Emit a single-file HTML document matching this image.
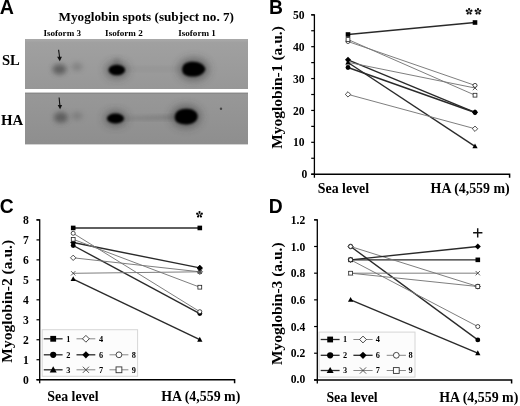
<!DOCTYPE html>
<html><head><meta charset="utf-8"><style>
html,body{margin:0;padding:0;background:#fff;}
svg{display:block;will-change:transform;}
text{fill:#000;}
.s{font-family:"Liberation Serif",serif;font-weight:bold;}
.a{font-family:"Liberation Sans",sans-serif;font-weight:bold;}
</style></head><body>
<svg width="520" height="406" viewBox="0 0 520 406">
<text x="-0.2" y="13.7" class="a" font-size="19.6" text-anchor="start" >A</text>
<text x="58.5" y="20.9" class="s" font-size="13.2" text-anchor="start" >Myoglobin spots (subject no. 7)</text>
<text x="43.4" y="35.7" class="s" font-size="9.1" text-anchor="start" >Isoform 3</text>
<text x="105.1" y="35.7" class="s" font-size="9.1" text-anchor="start" >Isoform 2</text>
<text x="178.2" y="35.7" class="s" font-size="9.1" text-anchor="start" >Isoform 1</text>
<text x="1.9" y="64.9" class="s" font-size="14.6" text-anchor="start" >SL</text>
<text x="0.9" y="124.7" class="s" font-size="14.8" text-anchor="start" >HA</text>

<defs>
<filter id="b07" x="-50%" y="-50%" width="200%" height="200%"><feGaussianBlur stdDeviation="0.7"/></filter>
<filter id="b1" x="-50%" y="-50%" width="200%" height="200%"><feGaussianBlur stdDeviation="1"/></filter>
<filter id="b2" x="-50%" y="-50%" width="200%" height="200%"><feGaussianBlur stdDeviation="2"/></filter>
<filter id="b3" x="-50%" y="-50%" width="200%" height="200%"><feGaussianBlur stdDeviation="2.6"/></filter>
<filter id="b5" x="-50%" y="-50%" width="200%" height="200%"><feGaussianBlur stdDeviation="4"/></filter>
<linearGradient id="g1" x1="0" y1="0" x2="0" y2="1"><stop offset="0" stop-color="#a1a1a1"/><stop offset="1" stop-color="#979797"/></linearGradient>
<linearGradient id="g2" x1="0" y1="0" x2="0" y2="1"><stop offset="0" stop-color="#989898"/><stop offset="1" stop-color="#8e8e8e"/></linearGradient>
<clipPath id="c1"><rect x="25" y="39" width="223" height="50"/></clipPath>
<clipPath id="c2"><rect x="25" y="92.6" width="223" height="51.8"/></clipPath>
</defs>
<rect x="25" y="39" width="223" height="50" fill="url(#g1)"/>
<rect x="25" y="92.6" width="223" height="51.8" fill="url(#g2)"/>
<g clip-path="url(#c1)">
 <rect x="25" y="38" width="223" height="3" fill="#b0b0b0" filter="url(#b1)" opacity="0.6"/>
 <ellipse cx="59.5" cy="69.2" rx="7" ry="5.2" fill="#555" filter="url(#b3)" opacity="0.85"/>
 <ellipse cx="77" cy="66.8" rx="5.5" ry="4" fill="#6a6a6a" filter="url(#b3)" opacity="0.5"/>
 <rect x="125" y="67" width="55" height="4" fill="#888" filter="url(#b3)" opacity="0.35"/>
 <ellipse cx="116.8" cy="70" rx="11" ry="8" fill="#333" filter="url(#b5)" opacity="0.55"/>
 <ellipse cx="116.8" cy="64" rx="3" ry="6" fill="#555" filter="url(#b3)" opacity="0.4"/>
 <ellipse cx="116.8" cy="70" rx="8.3" ry="5.3" fill="#000" filter="url(#b1)"/>
 <ellipse cx="193.6" cy="69.2" rx="15" ry="11" fill="#333" filter="url(#b5)" opacity="0.55"/>
 <path d="M182.2,69.4 C182.2,64 187,61.8 193,61.8 C199.5,61.8 204,64.8 205.4,69 C204,73.6 199.5,76.6 193,76.6 C187,76.6 182.2,74.8 182.2,69.4Z" fill="#000" filter="url(#b1)"/>
 <path d="M58.6,49.8 L59.6,57.5" stroke="#111" stroke-width="1.1"/>
 <path d="M57.1,56.8 L61.9,56.8 L59.8,61.2 Z" fill="#111"/>
</g>
<g clip-path="url(#c2)">
 <rect x="25" y="92.6" width="223" height="1.2" fill="#808080" opacity="0.7"/>
 <ellipse cx="60.9" cy="117.4" rx="7" ry="5.4" fill="#555" filter="url(#b3)" opacity="0.85"/>
 <ellipse cx="77" cy="116" rx="5.5" ry="4" fill="#6a6a6a" filter="url(#b3)" opacity="0.5"/>
 <path d="M124,117.5 L176,115.3 L176,119.5 L124,119.5Z" fill="#666" filter="url(#b2)" opacity="0.55"/>
 <ellipse cx="115.5" cy="118.5" rx="11" ry="7.5" fill="#333" filter="url(#b5)" opacity="0.55"/>
 <ellipse cx="115.5" cy="118.5" rx="8.5" ry="4.9" fill="#000" filter="url(#b1)"/>
 <ellipse cx="186.1" cy="116.5" rx="14.5" ry="11" fill="#333" filter="url(#b5)" opacity="0.55"/>
 <path d="M174.8,117.5 C174.8,111.5 180,108.8 186.5,108.8 C193,108.8 197.6,112 197.6,116.3 C197.6,121 193,124.4 186.5,124.4 C180,124.4 174.8,122.5 174.8,117.5Z" fill="#000" filter="url(#b1)"/>
 <circle cx="221" cy="108.7" r="1.2" fill="#444" filter="url(#b07)"/>
 <path d="M59.1,97.5 L59.9,105.6" stroke="#111" stroke-width="1.1"/>
 <path d="M57.7,105.1 L62.1,105.1 L60.1,109.3 Z" fill="#111"/>
</g>

<text x="268.9" y="13.8" class="a" font-size="19.3" text-anchor="start" >B</text>
<path d="M311.20,14.80 H314.40 V177.80" stroke="#000" stroke-width="1.3" fill="none"/>
<path d="M311.20,174.20 H314.40" stroke="#000" stroke-width="1.2"/>
<path d="M311.20,142.32 H314.40" stroke="#000" stroke-width="1.2"/>
<path d="M311.20,110.44 H314.40" stroke="#000" stroke-width="1.2"/>
<path d="M311.20,78.56 H314.40" stroke="#000" stroke-width="1.2"/>
<path d="M311.20,46.68 H314.40" stroke="#000" stroke-width="1.2"/>
<path d="M311.20,14.80 H314.40" stroke="#000" stroke-width="1.2"/>
<path d="M311.20,158.26 H314.40" stroke="#000" stroke-width="1.2"/>
<path d="M311.20,126.38 H314.40" stroke="#000" stroke-width="1.2"/>
<path d="M311.20,94.50 H314.40" stroke="#000" stroke-width="1.2"/>
<path d="M311.20,62.62 H314.40" stroke="#000" stroke-width="1.2"/>
<path d="M311.20,30.74 H314.40" stroke="#000" stroke-width="1.2"/>
<path d="M311.20,174.20 H509.60 V177.80" stroke="#000" stroke-width="1.5" fill="none"/>
<text x="307.40" y="178.30" class="s" font-size="11.6" text-anchor="end" >0</text>
<text x="304.60" y="146.42" class="s" font-size="11.6" text-anchor="end" >10</text>
<text x="304.60" y="114.54" class="s" font-size="11.6" text-anchor="end" >20</text>
<text x="304.60" y="82.66" class="s" font-size="11.6" text-anchor="end" >30</text>
<text x="304.60" y="50.78" class="s" font-size="11.6" text-anchor="end" >40</text>
<text x="304.60" y="18.90" class="s" font-size="11.6" text-anchor="end" >50</text>
<text x="0" y="0" class="s" font-size="15.5" text-anchor="middle" transform="translate(281.8,87.5) rotate(-90)">Myoglobin-1 (a.u.)</text>
<text x="317.8" y="192.8" class="s" font-size="13.9" text-anchor="start" >Sea level</text>
<text x="430.6" y="192.8" class="s" font-size="13.9" text-anchor="start" >HA (4,559 m)</text>
<line x1="348" y1="34.50" x2="475" y2="22.50" stroke="#2a2a2a" stroke-width="1.4"/>
<line x1="348" y1="67.50" x2="475" y2="112.50" stroke="#2a2a2a" stroke-width="1.4"/>
<line x1="348" y1="62.50" x2="475" y2="146.30" stroke="#2a2a2a" stroke-width="1.4"/>
<line x1="348" y1="94.40" x2="475" y2="128.75" stroke="#777" stroke-width="0.95"/>
<line x1="348" y1="59.80" x2="475" y2="112.30" stroke="#2a2a2a" stroke-width="1.4"/>
<line x1="348" y1="62.30" x2="475" y2="88.00" stroke="#777" stroke-width="0.95"/>
<line x1="348" y1="41.50" x2="475" y2="85.40" stroke="#777" stroke-width="0.95"/>
<line x1="348" y1="39.50" x2="475" y2="95.20" stroke="#777" stroke-width="0.95"/>
<path d="M348.00,91.71 L350.69,94.40 L348.00,97.09 L345.31,94.40Z" fill="#fff" stroke="#222" stroke-width="0.8"/>
<path d="M475.00,126.06 L477.69,128.75 L475.00,131.44 L472.31,128.75Z" fill="#fff" stroke="#222" stroke-width="0.8"/>
<path d="M345.81,60.11 L350.19,64.48 M350.19,60.11 L345.81,64.48" stroke="#333" stroke-width="0.8" fill="none"/>
<path d="M472.81,85.81 L477.19,90.19 M477.19,85.81 L472.81,90.19" stroke="#333" stroke-width="0.8" fill="none"/>
<circle cx="348.00" cy="67.50" r="2.42" fill="#000"/>
<circle cx="475.00" cy="112.50" r="2.42" fill="#000"/>
<path d="M348.00,59.60 L350.64,64.43 L345.36,64.43Z" fill="#000"/>
<path d="M475.00,143.40 L477.64,148.23 L472.36,148.23Z" fill="#000"/>
<path d="M348.00,56.81 L350.99,59.80 L348.00,62.79 L345.01,59.80Z" fill="#000"/>
<path d="M475.00,109.31 L477.99,112.30 L475.00,115.29 L472.01,112.30Z" fill="#000"/>
<circle cx="348.00" cy="41.50" r="2.02" fill="#fff" stroke="#222" stroke-width="0.8"/>
<circle cx="475.00" cy="85.40" r="2.02" fill="#fff" stroke="#222" stroke-width="0.8"/>
<rect x="346.10" y="37.60" width="3.80" height="3.80" fill="#fff" stroke="#222" stroke-width="0.8"/>
<rect x="473.10" y="93.30" width="3.80" height="3.80" fill="#fff" stroke="#222" stroke-width="0.8"/>
<rect x="345.70" y="32.20" width="4.60" height="4.60" fill="#000"/>
<rect x="472.70" y="20.20" width="4.60" height="4.60" fill="#000"/>
<path transform="translate(469.10,11.50) rotate(0.0) scale(1.000)" d="M0,-0.3 C0.45,-1.1 1.35,-2.1 1.05,-2.95 C0.75,-3.65 -0.75,-3.65 -1.05,-2.95 C-1.35,-2.1 -0.45,-1.1 0,-0.3Z" fill="#000"/>
<path transform="translate(469.10,11.50) rotate(72.0) scale(1.000)" d="M0,-0.3 C0.45,-1.1 1.35,-2.1 1.05,-2.95 C0.75,-3.65 -0.75,-3.65 -1.05,-2.95 C-1.35,-2.1 -0.45,-1.1 0,-0.3Z" fill="#000"/>
<path transform="translate(469.10,11.50) rotate(144.0) scale(1.000)" d="M0,-0.3 C0.45,-1.1 1.35,-2.1 1.05,-2.95 C0.75,-3.65 -0.75,-3.65 -1.05,-2.95 C-1.35,-2.1 -0.45,-1.1 0,-0.3Z" fill="#000"/>
<path transform="translate(469.10,11.50) rotate(216.0) scale(1.000)" d="M0,-0.3 C0.45,-1.1 1.35,-2.1 1.05,-2.95 C0.75,-3.65 -0.75,-3.65 -1.05,-2.95 C-1.35,-2.1 -0.45,-1.1 0,-0.3Z" fill="#000"/>
<path transform="translate(469.10,11.50) rotate(288.0) scale(1.000)" d="M0,-0.3 C0.45,-1.1 1.35,-2.1 1.05,-2.95 C0.75,-3.65 -0.75,-3.65 -1.05,-2.95 C-1.35,-2.1 -0.45,-1.1 0,-0.3Z" fill="#000"/>
<path transform="translate(478.00,11.50) rotate(0.0) scale(1.000)" d="M0,-0.3 C0.45,-1.1 1.35,-2.1 1.05,-2.95 C0.75,-3.65 -0.75,-3.65 -1.05,-2.95 C-1.35,-2.1 -0.45,-1.1 0,-0.3Z" fill="#000"/>
<path transform="translate(478.00,11.50) rotate(72.0) scale(1.000)" d="M0,-0.3 C0.45,-1.1 1.35,-2.1 1.05,-2.95 C0.75,-3.65 -0.75,-3.65 -1.05,-2.95 C-1.35,-2.1 -0.45,-1.1 0,-0.3Z" fill="#000"/>
<path transform="translate(478.00,11.50) rotate(144.0) scale(1.000)" d="M0,-0.3 C0.45,-1.1 1.35,-2.1 1.05,-2.95 C0.75,-3.65 -0.75,-3.65 -1.05,-2.95 C-1.35,-2.1 -0.45,-1.1 0,-0.3Z" fill="#000"/>
<path transform="translate(478.00,11.50) rotate(216.0) scale(1.000)" d="M0,-0.3 C0.45,-1.1 1.35,-2.1 1.05,-2.95 C0.75,-3.65 -0.75,-3.65 -1.05,-2.95 C-1.35,-2.1 -0.45,-1.1 0,-0.3Z" fill="#000"/>
<path transform="translate(478.00,11.50) rotate(288.0) scale(1.000)" d="M0,-0.3 C0.45,-1.1 1.35,-2.1 1.05,-2.95 C0.75,-3.65 -0.75,-3.65 -1.05,-2.95 C-1.35,-2.1 -0.45,-1.1 0,-0.3Z" fill="#000"/>
<text x="-0.3" y="212.9" class="a" font-size="19.3" text-anchor="start" >C</text>
<path d="M36.50,219.94 H39.70 V383.30" stroke="#000" stroke-width="1.3" fill="none"/>
<path d="M36.50,379.70 H39.70" stroke="#000" stroke-width="1.2"/>
<path d="M36.50,359.73 H39.70" stroke="#000" stroke-width="1.2"/>
<path d="M36.50,339.76 H39.70" stroke="#000" stroke-width="1.2"/>
<path d="M36.50,319.79 H39.70" stroke="#000" stroke-width="1.2"/>
<path d="M36.50,299.82 H39.70" stroke="#000" stroke-width="1.2"/>
<path d="M36.50,279.85 H39.70" stroke="#000" stroke-width="1.2"/>
<path d="M36.50,259.88 H39.70" stroke="#000" stroke-width="1.2"/>
<path d="M36.50,239.91 H39.70" stroke="#000" stroke-width="1.2"/>
<path d="M36.50,219.94 H39.70" stroke="#000" stroke-width="1.2"/>
<path d="M36.50,379.70 H234.60 V383.30" stroke="#000" stroke-width="1.5" fill="none"/>
<text x="28.70" y="383.80" class="s" font-size="11.6" text-anchor="end" >0</text>
<text x="28.70" y="363.83" class="s" font-size="11.6" text-anchor="end" >1</text>
<text x="28.70" y="343.86" class="s" font-size="11.6" text-anchor="end" >2</text>
<text x="28.70" y="323.89" class="s" font-size="11.6" text-anchor="end" >3</text>
<text x="28.70" y="303.92" class="s" font-size="11.6" text-anchor="end" >4</text>
<text x="28.70" y="283.95" class="s" font-size="11.6" text-anchor="end" >5</text>
<text x="28.70" y="263.98" class="s" font-size="11.6" text-anchor="end" >6</text>
<text x="28.70" y="244.01" class="s" font-size="11.6" text-anchor="end" >7</text>
<text x="28.70" y="224.04" class="s" font-size="11.6" text-anchor="end" >8</text>
<text x="0" y="0" class="s" font-size="15.5" text-anchor="middle" transform="translate(11.9,301.3) rotate(-90)">Myoglobin-2 (a.u.)</text>
<text x="47.3" y="401.4" class="s" font-size="13.9" text-anchor="start" >Sea level</text>
<text x="161.2" y="401.4" class="s" font-size="13.9" text-anchor="start" >HA (4,559 m)</text>
<line x1="73.2" y1="227.95" x2="199.8" y2="227.95" stroke="#2a2a2a" stroke-width="1.4"/>
<line x1="73.2" y1="245.50" x2="199.8" y2="313.60" stroke="#2a2a2a" stroke-width="1.4"/>
<line x1="73.2" y1="279.10" x2="199.8" y2="339.70" stroke="#2a2a2a" stroke-width="1.4"/>
<line x1="73.2" y1="257.80" x2="199.8" y2="271.80" stroke="#777" stroke-width="0.95"/>
<line x1="73.2" y1="242.50" x2="199.8" y2="267.90" stroke="#2a2a2a" stroke-width="1.4"/>
<line x1="73.2" y1="273.30" x2="199.8" y2="271.80" stroke="#777" stroke-width="0.95"/>
<line x1="73.2" y1="233.30" x2="199.8" y2="311.70" stroke="#777" stroke-width="0.95"/>
<line x1="73.2" y1="239.30" x2="199.8" y2="287.20" stroke="#777" stroke-width="0.95"/>
<rect x="70.90" y="225.65" width="4.60" height="4.60" fill="#000"/>
<rect x="197.50" y="225.65" width="4.60" height="4.60" fill="#000"/>
<circle cx="73.20" cy="245.50" r="2.42" fill="#000"/>
<circle cx="199.80" cy="313.60" r="2.42" fill="#000"/>
<path d="M73.20,276.20 L75.84,281.03 L70.56,281.03Z" fill="#000"/>
<path d="M199.80,336.80 L202.45,341.63 L197.16,341.63Z" fill="#000"/>
<path d="M73.20,255.11 L75.89,257.80 L73.20,260.49 L70.51,257.80Z" fill="#fff" stroke="#222" stroke-width="0.8"/>
<path d="M199.80,269.11 L202.49,271.80 L199.80,274.49 L197.11,271.80Z" fill="#fff" stroke="#222" stroke-width="0.8"/>
<path d="M73.20,239.51 L76.19,242.50 L73.20,245.49 L70.21,242.50Z" fill="#000"/>
<path d="M199.80,264.91 L202.79,267.90 L199.80,270.89 L196.81,267.90Z" fill="#000"/>
<path d="M71.02,271.12 L75.39,275.49 M75.39,271.12 L71.02,275.49" stroke="#333" stroke-width="0.8" fill="none"/>
<path d="M197.62,269.62 L201.99,273.99 M201.99,269.62 L197.62,273.99" stroke="#333" stroke-width="0.8" fill="none"/>
<circle cx="73.20" cy="233.30" r="2.02" fill="#fff" stroke="#222" stroke-width="0.8"/>
<circle cx="199.80" cy="311.70" r="2.02" fill="#fff" stroke="#222" stroke-width="0.8"/>
<rect x="71.30" y="237.40" width="3.80" height="3.80" fill="#fff" stroke="#222" stroke-width="0.8"/>
<rect x="197.90" y="285.30" width="3.80" height="3.80" fill="#fff" stroke="#222" stroke-width="0.8"/>
<rect x="198.1" y="270.2" width="3.5" height="3.6" fill="#555"/>
<path d="M199.80,264.91 L202.79,267.90 L199.80,270.89 L196.81,267.90Z" fill="#000"/>
<path transform="translate(199.50,214.50) rotate(0.0) scale(1.000)" d="M0,-0.3 C0.45,-1.1 1.35,-2.1 1.05,-2.95 C0.75,-3.65 -0.75,-3.65 -1.05,-2.95 C-1.35,-2.1 -0.45,-1.1 0,-0.3Z" fill="#000"/>
<path transform="translate(199.50,214.50) rotate(72.0) scale(1.000)" d="M0,-0.3 C0.45,-1.1 1.35,-2.1 1.05,-2.95 C0.75,-3.65 -0.75,-3.65 -1.05,-2.95 C-1.35,-2.1 -0.45,-1.1 0,-0.3Z" fill="#000"/>
<path transform="translate(199.50,214.50) rotate(144.0) scale(1.000)" d="M0,-0.3 C0.45,-1.1 1.35,-2.1 1.05,-2.95 C0.75,-3.65 -0.75,-3.65 -1.05,-2.95 C-1.35,-2.1 -0.45,-1.1 0,-0.3Z" fill="#000"/>
<path transform="translate(199.50,214.50) rotate(216.0) scale(1.000)" d="M0,-0.3 C0.45,-1.1 1.35,-2.1 1.05,-2.95 C0.75,-3.65 -0.75,-3.65 -1.05,-2.95 C-1.35,-2.1 -0.45,-1.1 0,-0.3Z" fill="#000"/>
<path transform="translate(199.50,214.50) rotate(288.0) scale(1.000)" d="M0,-0.3 C0.45,-1.1 1.35,-2.1 1.05,-2.95 C0.75,-3.65 -0.75,-3.65 -1.05,-2.95 C-1.35,-2.1 -0.45,-1.1 0,-0.3Z" fill="#000"/>
<rect x="42.2" y="329.7" width="95.4" height="46.6" fill="#fcfcfc" stroke="#d6d6d6" stroke-width="1"/>
<line x1="43.8" y1="338.8" x2="62.6" y2="338.8" stroke="#2a2a2a" stroke-width="1.3"/>
<rect x="50.30" y="335.90" width="5.8" height="5.8" fill="#000"/>
<text x="66.2" y="341.60" class="s" font-size="8.3" text-anchor="start" >1</text>
<line x1="76.5" y1="338.8" x2="95.3" y2="338.8" stroke="#888" stroke-width="1.0"/>
<path d="M85.90,335.40 L89.30,338.80 L85.90,342.20 L82.50,338.80Z" fill="#fff" stroke="#333" stroke-width="0.9"/>
<text x="99.0" y="341.60" class="s" font-size="8.3" text-anchor="start" >4</text>
<line x1="43.8" y1="354.8" x2="62.6" y2="354.8" stroke="#2a2a2a" stroke-width="1.3"/>
<circle cx="53.20" cy="354.80" r="3.1" fill="#000"/>
<text x="66.2" y="357.60" class="s" font-size="8.3" text-anchor="start" >2</text>
<line x1="76.5" y1="354.8" x2="95.3" y2="354.8" stroke="#2a2a2a" stroke-width="1.3"/>
<path d="M85.90,351.20 L89.50,354.80 L85.90,358.40 L82.30,354.80Z" fill="#000"/>
<text x="99.0" y="357.60" class="s" font-size="8.3" text-anchor="start" >6</text>
<line x1="109.5" y1="354.8" x2="128.4" y2="354.8" stroke="#888" stroke-width="1.0"/>
<circle cx="118.95" cy="354.80" r="2.9" fill="#fff" stroke="#333" stroke-width="0.9"/>
<text x="131.8" y="357.60" class="s" font-size="8.3" text-anchor="start" >8</text>
<line x1="43.8" y1="369.8" x2="62.6" y2="369.8" stroke="#2a2a2a" stroke-width="1.3"/>
<path d="M53.20,366.20 L56.70,372.40 L49.70,372.40Z" fill="#000"/>
<text x="66.2" y="372.60" class="s" font-size="8.3" text-anchor="start" >3</text>
<line x1="76.5" y1="369.8" x2="95.3" y2="369.8" stroke="#888" stroke-width="1.0"/>
<path d="M82.80,366.70 L89.00,372.90 M89.00,366.70 L82.80,372.90" stroke="#444" stroke-width="0.9" fill="none"/>
<text x="99.0" y="372.60" class="s" font-size="8.3" text-anchor="start" >7</text>
<line x1="109.5" y1="369.8" x2="128.4" y2="369.8" stroke="#888" stroke-width="1.0"/>
<rect x="116.05" y="366.90" width="5.8" height="5.8" fill="#fff" stroke="#333" stroke-width="0.9"/>
<text x="131.8" y="372.60" class="s" font-size="8.3" text-anchor="start" >9</text>
<text x="268.7" y="212.7" class="a" font-size="19.3" text-anchor="start" >D</text>
<path d="M314.10,219.82 H317.30 V383.50" stroke="#000" stroke-width="1.3" fill="none"/>
<path d="M314.10,379.90 H317.30" stroke="#000" stroke-width="1.2"/>
<path d="M314.10,353.22 H317.30" stroke="#000" stroke-width="1.2"/>
<path d="M314.10,326.54 H317.30" stroke="#000" stroke-width="1.2"/>
<path d="M314.10,299.86 H317.30" stroke="#000" stroke-width="1.2"/>
<path d="M314.10,273.18 H317.30" stroke="#000" stroke-width="1.2"/>
<path d="M314.10,246.50 H317.30" stroke="#000" stroke-width="1.2"/>
<path d="M314.10,219.82 H317.30" stroke="#000" stroke-width="1.2"/>
<path d="M314.10,379.90 H511.60 V383.50" stroke="#000" stroke-width="1.5" fill="none"/>
<text x="305.20" y="382.50" class="s" font-size="11.6" text-anchor="end" >0.0</text>
<text x="305.20" y="357.32" class="s" font-size="11.6" text-anchor="end" >0.2</text>
<text x="305.20" y="330.64" class="s" font-size="11.6" text-anchor="end" >0.4</text>
<text x="305.20" y="303.96" class="s" font-size="11.6" text-anchor="end" >0.6</text>
<text x="305.20" y="277.28" class="s" font-size="11.6" text-anchor="end" >0.8</text>
<text x="305.20" y="250.60" class="s" font-size="11.6" text-anchor="end" >1.0</text>
<text x="305.20" y="223.92" class="s" font-size="11.6" text-anchor="end" >1.2</text>
<text x="0" y="0" class="s" font-size="15.5" text-anchor="middle" transform="translate(281.9,303.7) rotate(-90)">Myoglobin-3 (a.u.)</text>
<text x="326.4" y="402.2" class="s" font-size="13.9" text-anchor="start" >Sea level</text>
<text x="439.2" y="402.2" class="s" font-size="13.9" text-anchor="start" >HA (4,559 m)</text>
<line x1="350.6" y1="259.84" x2="477.8" y2="259.84" stroke="#2a2a2a" stroke-width="1.4"/>
<line x1="350.6" y1="246.50" x2="477.8" y2="339.88" stroke="#2a2a2a" stroke-width="1.4"/>
<line x1="350.6" y1="299.86" x2="477.8" y2="353.22" stroke="#2a2a2a" stroke-width="1.4"/>
<line x1="350.6" y1="246.50" x2="477.8" y2="286.52" stroke="#777" stroke-width="0.95"/>
<line x1="350.6" y1="259.84" x2="477.8" y2="246.50" stroke="#2a2a2a" stroke-width="1.4"/>
<line x1="350.6" y1="273.18" x2="477.8" y2="273.18" stroke="#777" stroke-width="0.95"/>
<line x1="350.6" y1="259.84" x2="477.8" y2="326.54" stroke="#777" stroke-width="0.95"/>
<line x1="350.6" y1="273.18" x2="477.8" y2="286.52" stroke="#777" stroke-width="0.95"/>
<circle cx="350.60" cy="246.50" r="2.42" fill="#000"/>
<circle cx="477.80" cy="339.88" r="2.42" fill="#000"/>
<path d="M350.60,243.81 L353.29,246.50 L350.60,249.19 L347.91,246.50Z" fill="#fff" stroke="#222" stroke-width="0.8"/>
<path d="M477.80,283.83 L480.49,286.52 L477.80,289.21 L475.11,286.52Z" fill="#fff" stroke="#222" stroke-width="0.8"/>
<rect x="348.30" y="257.54" width="4.60" height="4.60" fill="#000"/>
<rect x="475.50" y="257.54" width="4.60" height="4.60" fill="#000"/>
<path d="M350.60,256.85 L353.59,259.84 L350.60,262.83 L347.61,259.84Z" fill="#000"/>
<path d="M477.80,243.51 L480.79,246.50 L477.80,249.49 L474.81,246.50Z" fill="#000"/>
<path d="M348.42,270.99 L352.79,275.36 M352.79,270.99 L348.42,275.36" stroke="#333" stroke-width="0.8" fill="none"/>
<path d="M475.62,270.99 L479.99,275.36 M479.99,270.99 L475.62,275.36" stroke="#333" stroke-width="0.8" fill="none"/>
<rect x="348.70" y="271.28" width="3.80" height="3.80" fill="#fff" stroke="#222" stroke-width="0.8"/>
<rect x="475.90" y="284.62" width="3.80" height="3.80" fill="#fff" stroke="#222" stroke-width="0.8"/>
<circle cx="350.60" cy="259.84" r="2.02" fill="#fff" stroke="#222" stroke-width="0.8"/>
<circle cx="477.80" cy="326.54" r="2.02" fill="#fff" stroke="#222" stroke-width="0.8"/>
<path d="M350.60,296.96 L353.25,301.79 L347.96,301.79Z" fill="#000"/>
<path d="M477.80,350.32 L480.44,355.15 L475.16,355.15Z" fill="#000"/>
<circle cx="350.60" cy="246.50" r="2.02" fill="#fff" stroke="#222" stroke-width="0.8"/>
<path d="M477.7,228.2 V237.5 M473.1,232.8 H482.4" stroke="#111" stroke-width="1.45"/>
<rect x="319" y="332.1" width="96" height="45" fill="#fcfcfc" stroke="#d6d6d6" stroke-width="1"/>
<line x1="320.7" y1="339.5" x2="339.6" y2="339.5" stroke="#2a2a2a" stroke-width="1.3"/>
<rect x="327.25" y="336.60" width="5.8" height="5.8" fill="#000"/>
<text x="343.0" y="342.30" class="s" font-size="8.3" text-anchor="start" >1</text>
<line x1="353.4" y1="339.5" x2="372.6" y2="339.5" stroke="#888" stroke-width="1.0"/>
<path d="M363.00,336.10 L366.40,339.50 L363.00,342.90 L359.60,339.50Z" fill="#fff" stroke="#333" stroke-width="0.9"/>
<text x="375.79999999999995" y="342.30" class="s" font-size="8.3" text-anchor="start" >4</text>
<line x1="320.7" y1="355.3" x2="339.6" y2="355.3" stroke="#2a2a2a" stroke-width="1.3"/>
<circle cx="330.15" cy="355.30" r="3.1" fill="#000"/>
<text x="343.0" y="358.10" class="s" font-size="8.3" text-anchor="start" >2</text>
<line x1="353.4" y1="355.3" x2="372.6" y2="355.3" stroke="#2a2a2a" stroke-width="1.3"/>
<path d="M363.00,351.70 L366.60,355.30 L363.00,358.90 L359.40,355.30Z" fill="#000"/>
<text x="375.79999999999995" y="358.10" class="s" font-size="8.3" text-anchor="start" >6</text>
<line x1="386.7" y1="355.3" x2="405.9" y2="355.3" stroke="#888" stroke-width="1.0"/>
<circle cx="396.30" cy="355.30" r="2.9" fill="#fff" stroke="#333" stroke-width="0.9"/>
<text x="408.4" y="358.10" class="s" font-size="8.3" text-anchor="start" >8</text>
<line x1="320.7" y1="370.5" x2="339.6" y2="370.5" stroke="#2a2a2a" stroke-width="1.3"/>
<path d="M330.15,366.90 L333.65,373.10 L326.65,373.10Z" fill="#000"/>
<text x="343.0" y="373.30" class="s" font-size="8.3" text-anchor="start" >3</text>
<line x1="353.4" y1="370.5" x2="372.6" y2="370.5" stroke="#888" stroke-width="1.0"/>
<path d="M359.90,367.40 L366.10,373.60 M366.10,367.40 L359.90,373.60" stroke="#444" stroke-width="0.9" fill="none"/>
<text x="375.79999999999995" y="373.30" class="s" font-size="8.3" text-anchor="start" >7</text>
<line x1="386.7" y1="370.5" x2="405.9" y2="370.5" stroke="#888" stroke-width="1.0"/>
<rect x="393.40" y="367.60" width="5.8" height="5.8" fill="#fff" stroke="#333" stroke-width="0.9"/>
<text x="408.4" y="373.30" class="s" font-size="8.3" text-anchor="start" >9</text>
</svg>
</body></html>
